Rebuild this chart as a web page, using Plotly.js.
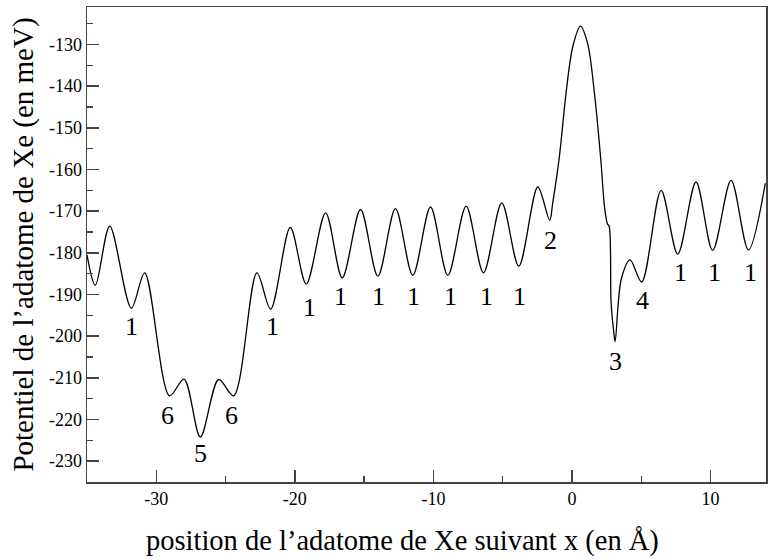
<!DOCTYPE html>
<html>
<head>
<meta charset="utf-8">
<script src="https://cdn.plot.ly/plotly-3.0.1.min.js"></script>
<style>html,body{margin:0;padding:0;background:#fff}#chart{width:769px;height:560px}</style>
</head>
<body>
<div id="chart"></div>
<script>
// Position x (Å) and potential (meV)
const positionX = [
  -35.0, -34.4, -33.36, -31.8, -30.84, -29.04, -28.0, -26.82, -25.5, -24.42,
  -22.74, -21.75, -20.33, -19.18, -17.78, -16.58, -15.26, -14.01, -12.74, -11.49,
  -10.21, -8.96, -7.64, -6.39, -5.07, -3.84, -2.47, -1.61, -1.39, -0.91,
  -0.43, 0.05, 0.61, 1.13, 1.62, 2.10, 2.34, 2.55, 2.68, 2.82,
  2.99, 3.11, 3.55, 4.19, 5.03, 6.43, 7.63, 8.95, 10.15, 11.48,
  12.73, 13.95
];
const potential = [
  -180.5, -187.8, -173.6, -193.3, -184.8, -214.3, -210.3, -224.2, -210.4, -214.3,
  -184.8, -193.5, -173.9, -187.5, -170.4, -186.0, -169.6, -185.6, -169.4, -185.4,
  -169.0, -185.4, -168.8, -184.8, -168.0, -183.2, -164.2, -172.2, -168.0, -156.9,
  -141.7, -130.6, -125.6, -129.8, -141.7, -158.5, -168.8, -173.0, -173.6, -191.9,
  -198.3, -201.3, -186.4, -181.7, -187.0, -165.0, -180.3, -163.0, -179.4, -162.6,
  -179.3, -163.3
];

// Site labels
const labelText = ["1","6","5","6","1","1","1","1","1","1","1","1","2","3","4","1","1","1"];
const labelX = [-31.77, -29.18, -26.80, -24.56, -21.6, -18.94, -16.7, -13.96, -11.44, -8.77, -6.17, -3.79, -1.55, 3.14, 5.09, 7.83, 10.29, 12.88];
const labelY = [-197.6, -219.1, -228.2, -219.1, -197.6, -193.0, -190.4, -190.4, -190.4, -190.4, -190.4, -190.4, -177.0, -206.0, -191.4, -184.7, -184.7, -184.7];

// Tick labels
const xTickVals = [-30, -20, -10, 0, 10];
const xTickText = ["-30", "-20", "-10", "0", "10"];
const yTickVals = [-230, -220, -210, -200, -190, -180, -170, -160, -150, -140, -130];
const yTickText = ["-230", "-220", "-210", "-200", "-190", "-180", "-170", "-160", "-150", "-140", "-130"];

const xTitle = "position de l’adatome de Xe suivant x (en Å)";
const yTitle = "Potentiel de l’adatome de Xe (en meV)";

const serif = "'Liberation Serif', 'DejaVu Serif', 'Times New Roman', serif";

const trace = {
  x: positionX, y: potential, type: "scatter", mode: "lines",
  line: {color: "#000", width: 1.3, shape: "spline", smoothing: 0.9},
  hoverinfo: "skip"
};

const annotations = labelText.map((t, i) => ({
  x: labelX[i], y: labelY[i], xref: "x", yref: "y", text: t, showarrow: false,
  font: {family: serif, size: 26, color: "#000"}, xanchor: "center", yanchor: "middle"
}));
// x-axis title (slightly left of plot centre, as in the reference)
annotations.push({
  x: 0.464, y: -0.124, xref: "paper", yref: "paper", text: xTitle, showarrow: false,
  font: {family: serif, size: 28.5, color: "#000"}, xanchor: "center", yanchor: "middle"
});

const axisCommon = {
  showline: true, mirror: true, linecolor: "#444", linewidth: 1.5,
  showgrid: false, zeroline: false, ticks: "inside", ticklen: 12, tickwidth: 1.5,
  tickcolor: "#444", tickfont: {family: serif, size: 18, color: "#000"},
  minor: {ticks: "inside", ticklen: 6, tickwidth: 1.5, tickcolor: "#444", dtick: 5, showgrid: false}
};

const layout = {
  width: 769, height: 560,
  margin: {l: 87, r: 3, t: 7, b: 78},
  paper_bgcolor: "#fff", plot_bgcolor: "#fff",
  showlegend: false,
  font: {family: serif, color: "#000"},
  xaxis: Object.assign({}, axisCommon, {
    range: [-35, 14], tickmode: "array", tickvals: xTickVals, ticktext: xTickText
  }),
  yaxis: Object.assign({}, axisCommon, {
    range: [-235, -121], tickmode: "array", tickvals: yTickVals, ticktext: yTickText,
    title: {text: yTitle, font: {family: serif, size: 29, color: "#000"}, standoff: 7}
  }),
  annotations: annotations
};

Plotly.newPlot("chart", [trace], layout, {displayModeBar: false, staticPlot: true});
</script>
</body>
</html>
